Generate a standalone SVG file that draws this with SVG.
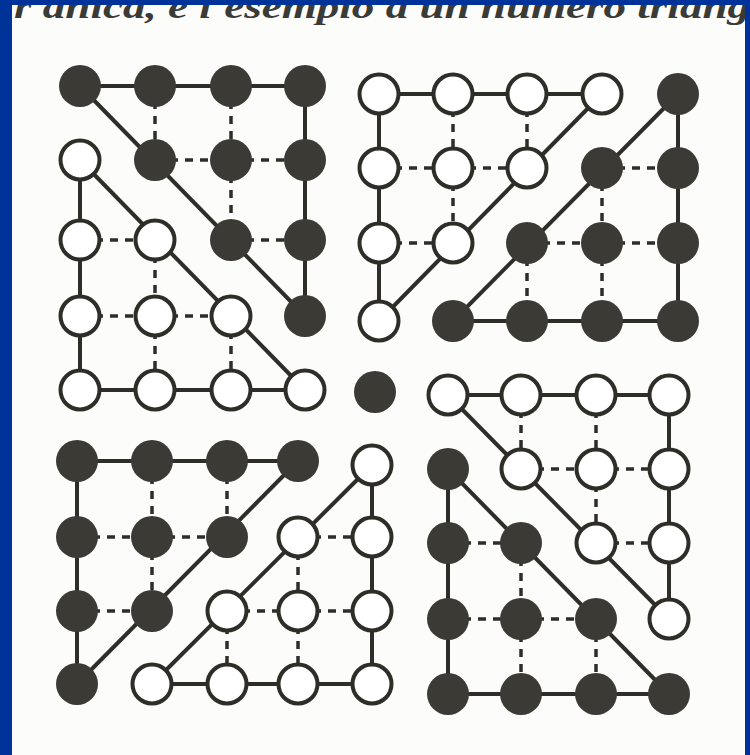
<svg xmlns="http://www.w3.org/2000/svg" width="750" height="755" viewBox="0 0 750 755">
<style>
.f{fill:#3b3a34}
.o{fill:#ffffff;stroke:#2e2d28;stroke-width:4}
.s{stroke:#2e2d28;stroke-width:4;fill:none}
.d{stroke:#2e2d28;stroke-width:3.5;fill:none;stroke-dasharray:8 7}
.t{font-family:"Liberation Serif",serif;font-style:italic;font-weight:bold;font-size:34px;fill:#3a3a36}
</style>
<defs>
<clipPath id="paper"><rect x="12" y="5" width="733" height="750"/></clipPath>
</defs>
<rect x="0" y="0" width="750" height="755" fill="#003399"/>
<rect x="12" y="5" width="733" height="750" fill="#fcfcfa"/>
<g clip-path="url(#paper)">
<text class="t" x="14" y="18" textLength="736" lengthAdjust="spacingAndGlyphs">r anica, è l'esempio a un numero triang</text>
</g>
<g id="connectors">
<line class="s" x1="80" y1="86" x2="305" y2="86"/>
<line class="s" x1="305" y1="86" x2="305" y2="316"/>
<line class="s" x1="80" y1="86" x2="305" y2="316"/>
<line class="s" x1="80" y1="160" x2="80" y2="390"/>
<line class="s" x1="80" y1="390" x2="305" y2="390"/>
<line class="s" x1="80" y1="160" x2="305" y2="390"/>
<line class="d" x1="155" y1="86" x2="155" y2="160"/>
<line class="d" x1="231" y1="86" x2="231" y2="160"/>
<line class="d" x1="231" y1="160" x2="231" y2="240"/>
<line class="d" x1="155" y1="160" x2="231" y2="160"/>
<line class="d" x1="231" y1="160" x2="305" y2="160"/>
<line class="d" x1="231" y1="240" x2="305" y2="240"/>
<line class="d" x1="80" y1="240" x2="155" y2="240"/>
<line class="d" x1="80" y1="316" x2="155" y2="316"/>
<line class="d" x1="155" y1="316" x2="231" y2="316"/>
<line class="d" x1="155" y1="240" x2="155" y2="316"/>
<line class="d" x1="155" y1="316" x2="155" y2="390"/>
<line class="d" x1="231" y1="316" x2="231" y2="390"/>
<line class="s" x1="379" y1="94" x2="602" y2="94"/>
<line class="s" x1="379" y1="94" x2="379" y2="321"/>
<line class="s" x1="602" y1="94" x2="379" y2="321"/>
<line class="s" x1="678" y1="94" x2="678" y2="321"/>
<line class="s" x1="453" y1="321" x2="678" y2="321"/>
<line class="s" x1="678" y1="94" x2="453" y2="321"/>
<line class="d" x1="453" y1="94" x2="453" y2="168"/>
<line class="d" x1="527" y1="94" x2="527" y2="168"/>
<line class="d" x1="453" y1="168" x2="453" y2="243"/>
<line class="d" x1="379" y1="168" x2="453" y2="168"/>
<line class="d" x1="453" y1="168" x2="527" y2="168"/>
<line class="d" x1="379" y1="243" x2="453" y2="243"/>
<line class="d" x1="602" y1="168" x2="678" y2="168"/>
<line class="d" x1="527" y1="243" x2="602" y2="243"/>
<line class="d" x1="602" y1="243" x2="678" y2="243"/>
<line class="d" x1="602" y1="168" x2="602" y2="243"/>
<line class="d" x1="527" y1="243" x2="527" y2="321"/>
<line class="d" x1="602" y1="243" x2="602" y2="321"/>
<line class="s" x1="448" y1="395" x2="669" y2="395"/>
<line class="s" x1="669" y1="395" x2="669" y2="619"/>
<line class="s" x1="448" y1="395" x2="669" y2="619"/>
<line class="s" x1="448" y1="469" x2="448" y2="694"/>
<line class="s" x1="448" y1="694" x2="669" y2="694"/>
<line class="s" x1="448" y1="469" x2="669" y2="694"/>
<line class="d" x1="521" y1="395" x2="521" y2="469"/>
<line class="d" x1="596" y1="395" x2="596" y2="469"/>
<line class="d" x1="596" y1="469" x2="596" y2="543"/>
<line class="d" x1="521" y1="469" x2="596" y2="469"/>
<line class="d" x1="596" y1="469" x2="669" y2="469"/>
<line class="d" x1="596" y1="543" x2="669" y2="543"/>
<line class="d" x1="448" y1="543" x2="521" y2="543"/>
<line class="d" x1="448" y1="619" x2="521" y2="619"/>
<line class="d" x1="521" y1="619" x2="596" y2="619"/>
<line class="d" x1="521" y1="543" x2="521" y2="619"/>
<line class="d" x1="521" y1="619" x2="521" y2="694"/>
<line class="d" x1="596" y1="619" x2="596" y2="694"/>
<line class="s" x1="77" y1="461" x2="298" y2="461"/>
<line class="s" x1="77" y1="461" x2="77" y2="684"/>
<line class="s" x1="298" y1="461" x2="77" y2="684"/>
<line class="s" x1="372" y1="465" x2="372" y2="684"/>
<line class="s" x1="152" y1="684" x2="372" y2="684"/>
<line class="s" x1="372" y1="465" x2="152" y2="684"/>
<line class="d" x1="152" y1="461" x2="152" y2="537"/>
<line class="d" x1="227" y1="461" x2="227" y2="537"/>
<line class="d" x1="152" y1="537" x2="152" y2="611"/>
<line class="d" x1="77" y1="537" x2="152" y2="537"/>
<line class="d" x1="152" y1="537" x2="227" y2="537"/>
<line class="d" x1="77" y1="611" x2="152" y2="611"/>
<line class="d" x1="298" y1="537" x2="372" y2="537"/>
<line class="d" x1="227" y1="611" x2="298" y2="611"/>
<line class="d" x1="298" y1="611" x2="372" y2="611"/>
<line class="d" x1="298" y1="537" x2="298" y2="611"/>
<line class="d" x1="227" y1="611" x2="227" y2="684"/>
<line class="d" x1="298" y1="611" x2="298" y2="684"/>
</g>
<g id="tl-f1"><circle class="f" cx="80" cy="86" r="21"/></g>
<g id="tl-f2"><circle class="f" cx="155" cy="86" r="21"/></g>
<g id="tl-f3"><circle class="f" cx="231" cy="86" r="21"/></g>
<g id="tl-f4"><circle class="f" cx="305" cy="86" r="21"/></g>
<g id="tl-f5"><circle class="f" cx="155" cy="160" r="21"/></g>
<g id="tl-f6"><circle class="f" cx="231" cy="160" r="21"/></g>
<g id="tl-f7"><circle class="f" cx="305" cy="160" r="21"/></g>
<g id="tl-f8"><circle class="f" cx="231" cy="240" r="21"/></g>
<g id="tl-f9"><circle class="f" cx="305" cy="240" r="21"/></g>
<g id="tl-f10"><circle class="f" cx="305" cy="316" r="21"/></g>
<g id="tl-o1"><circle class="o" cx="80" cy="160" r="19.5"/></g>
<g id="tl-o2"><circle class="o" cx="80" cy="240" r="19.5"/></g>
<g id="tl-o3"><circle class="o" cx="155" cy="240" r="19.5"/></g>
<g id="tl-o4"><circle class="o" cx="80" cy="316" r="19.5"/></g>
<g id="tl-o5"><circle class="o" cx="155" cy="316" r="19.5"/></g>
<g id="tl-o6"><circle class="o" cx="231" cy="316" r="19.5"/></g>
<g id="tl-o7"><circle class="o" cx="80" cy="390" r="19.5"/></g>
<g id="tl-o8"><circle class="o" cx="155" cy="390" r="19.5"/></g>
<g id="tl-o9"><circle class="o" cx="231" cy="390" r="19.5"/></g>
<g id="tl-o10"><circle class="o" cx="305" cy="390" r="19.5"/></g>
<g id="tr-o1"><circle class="o" cx="379" cy="94" r="19.5"/></g>
<g id="tr-o2"><circle class="o" cx="453" cy="94" r="19.5"/></g>
<g id="tr-o3"><circle class="o" cx="527" cy="94" r="19.5"/></g>
<g id="tr-o4"><circle class="o" cx="602" cy="94" r="19.5"/></g>
<g id="tr-o5"><circle class="o" cx="379" cy="168" r="19.5"/></g>
<g id="tr-o6"><circle class="o" cx="453" cy="168" r="19.5"/></g>
<g id="tr-o7"><circle class="o" cx="527" cy="168" r="19.5"/></g>
<g id="tr-o8"><circle class="o" cx="379" cy="243" r="19.5"/></g>
<g id="tr-o9"><circle class="o" cx="453" cy="243" r="19.5"/></g>
<g id="tr-o10"><circle class="o" cx="379" cy="321" r="19.5"/></g>
<g id="tr-f1"><circle class="f" cx="678" cy="94" r="21"/></g>
<g id="tr-f2"><circle class="f" cx="602" cy="168" r="21"/></g>
<g id="tr-f3"><circle class="f" cx="678" cy="168" r="21"/></g>
<g id="tr-f4"><circle class="f" cx="527" cy="243" r="21"/></g>
<g id="tr-f5"><circle class="f" cx="602" cy="243" r="21"/></g>
<g id="tr-f6"><circle class="f" cx="678" cy="243" r="21"/></g>
<g id="tr-f7"><circle class="f" cx="453" cy="321" r="21"/></g>
<g id="tr-f8"><circle class="f" cx="527" cy="321" r="21"/></g>
<g id="tr-f9"><circle class="f" cx="602" cy="321" r="21"/></g>
<g id="tr-f10"><circle class="f" cx="678" cy="321" r="21"/></g>
<g id="centre"><circle class="f" cx="375" cy="392" r="21"/></g>
<g id="br-o1"><circle class="o" cx="448" cy="395" r="19.5"/></g>
<g id="br-o2"><circle class="o" cx="521" cy="395" r="19.5"/></g>
<g id="br-o3"><circle class="o" cx="596" cy="395" r="19.5"/></g>
<g id="br-o4"><circle class="o" cx="669" cy="395" r="19.5"/></g>
<g id="br-o5"><circle class="o" cx="521" cy="469" r="19.5"/></g>
<g id="br-o6"><circle class="o" cx="596" cy="469" r="19.5"/></g>
<g id="br-o7"><circle class="o" cx="669" cy="469" r="19.5"/></g>
<g id="br-o8"><circle class="o" cx="596" cy="543" r="19.5"/></g>
<g id="br-o9"><circle class="o" cx="669" cy="543" r="19.5"/></g>
<g id="br-o10"><circle class="o" cx="669" cy="619" r="19.5"/></g>
<g id="br-f1"><circle class="f" cx="448" cy="469" r="21"/></g>
<g id="br-f2"><circle class="f" cx="448" cy="543" r="21"/></g>
<g id="br-f3"><circle class="f" cx="521" cy="543" r="21"/></g>
<g id="br-f4"><circle class="f" cx="448" cy="619" r="21"/></g>
<g id="br-f5"><circle class="f" cx="521" cy="619" r="21"/></g>
<g id="br-f6"><circle class="f" cx="596" cy="619" r="21"/></g>
<g id="br-f7"><circle class="f" cx="448" cy="694" r="21"/></g>
<g id="br-f8"><circle class="f" cx="521" cy="694" r="21"/></g>
<g id="br-f9"><circle class="f" cx="596" cy="694" r="21"/></g>
<g id="br-f10"><circle class="f" cx="669" cy="694" r="21"/></g>
<g id="bl-f1"><circle class="f" cx="77" cy="461" r="21"/></g>
<g id="bl-f2"><circle class="f" cx="152" cy="461" r="21"/></g>
<g id="bl-f3"><circle class="f" cx="227" cy="461" r="21"/></g>
<g id="bl-f4"><circle class="f" cx="298" cy="461" r="21"/></g>
<g id="bl-f5"><circle class="f" cx="77" cy="537" r="21"/></g>
<g id="bl-f6"><circle class="f" cx="152" cy="537" r="21"/></g>
<g id="bl-f7"><circle class="f" cx="227" cy="537" r="21"/></g>
<g id="bl-f8"><circle class="f" cx="77" cy="611" r="21"/></g>
<g id="bl-f9"><circle class="f" cx="152" cy="611" r="21"/></g>
<g id="bl-f10"><circle class="f" cx="77" cy="684" r="21"/></g>
<g id="bl-o1"><circle class="o" cx="372" cy="465" r="19.5"/></g>
<g id="bl-o2"><circle class="o" cx="298" cy="537" r="19.5"/></g>
<g id="bl-o3"><circle class="o" cx="372" cy="537" r="19.5"/></g>
<g id="bl-o4"><circle class="o" cx="227" cy="611" r="19.5"/></g>
<g id="bl-o5"><circle class="o" cx="298" cy="611" r="19.5"/></g>
<g id="bl-o6"><circle class="o" cx="372" cy="611" r="19.5"/></g>
<g id="bl-o7"><circle class="o" cx="152" cy="684" r="19.5"/></g>
<g id="bl-o8"><circle class="o" cx="227" cy="684" r="19.5"/></g>
<g id="bl-o9"><circle class="o" cx="298" cy="684" r="19.5"/></g>
<g id="bl-o10"><circle class="o" cx="372" cy="684" r="19.5"/></g>
</svg>
